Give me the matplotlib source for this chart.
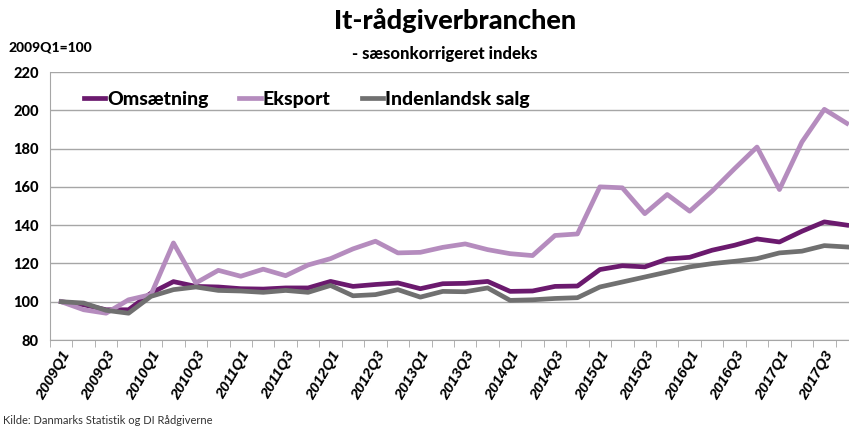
import matplotlib.pyplot as plt
import numpy as np

plt.rcParams['font.family'] = ['Lato', 'DejaVu Sans']

quarters = ['%dQ%d' % (y, q) for y in range(2009, 2018) for q in range(1, 5)]

omsaetning = [100, 98.4, 95.8, 95.8, 104.5, 110.5, 108, 107.7, 106.8, 106.6,
              107.2, 107.2, 110.6, 108, 109, 109.8, 106.8, 109.4, 109.6, 110.6,
              105.4, 105.6, 108, 108.2, 116.8, 118.8, 118.2, 122.3, 123.2, 126.9,
              129.5, 132.8, 131.2, 136.8, 141.7, 140]
eksport = [100, 95.8, 94, 101, 103.7, 130.7, 109.8, 116.4, 113.3, 117,
           113.6, 119.2, 122.5, 127.6, 131.6, 125.5, 125.8, 128.4, 130.2, 127.2,
           125.1, 124.1, 134.6, 135.4, 160, 159.5, 146, 156, 147.3, 157.8,
           169.5, 180.8, 158.6, 183.4, 200.5, 193.2]
indenlandsk = [100, 99.3, 95.5, 94, 102.8, 106.3, 107.7, 105.9, 105.6, 104.9,
               105.9, 104.9, 108.5, 103.1, 103.7, 106.3, 102.4, 105.4, 105.2, 107.2,
               100.7, 101, 101.7, 102.1, 107.7, 110.3, 112.9, 115.5, 118.2, 119.9,
               121.1, 122.5, 125.5, 126.4, 129.3, 128.6]

fig = plt.figure(figsize=(8.49, 4.28), dpi=100)
ax = fig.add_axes([50 / 849, 88 / 428, 808 / 849, 268 / 428])

x = np.arange(len(quarters))
ax.plot(x, omsaetning, color='#6B1A6E', lw=3.4, label='Omsætning', solid_joinstyle='round')
ax.plot(x, eksport, color='#B58CBE', lw=3.4, label='Eksport', solid_joinstyle='round')
ax.plot(x, indenlandsk, color='#707070', lw=3.4, label='Indenlandsk salg', solid_joinstyle='round')

ax.set_xlim(-0.5, len(quarters) - 0.5)
ax.set_ylim(80, 220)
ax.set_yticks(range(80, 221, 20))
ax.grid(axis='y', color='#A6A6A6', lw=1)
ax.set_axisbelow(True)

# x labels: bold italic (Lato italic not available, so Liberation Sans)
ax.set_xticks(x[::2])
ax.set_xticklabels(quarters[::2], rotation=60, ha='right', rotation_mode='anchor',
                   family=['Liberation Sans', 'DejaVu Sans'], fontweight='bold',
                   fontstyle='italic', fontsize=10.8)
ax.set_xticks(np.arange(-0.5, len(quarters)), minor=True)
ax.tick_params(axis='x', which='major', length=0, pad=6)
ax.tick_params(axis='x', which='minor', length=5, color='#A6A6A6')
ax.tick_params(axis='y', length=0, labelsize=10.5, pad=8)
for lab in ax.get_yticklabels():
    lab.set_fontweight('black')

for s in ['top', 'right']:
    ax.spines[s].set_visible(False)
for s in ['left', 'bottom']:
    ax.spines[s].set_color('#A6A6A6')

ax.legend(loc='upper left', bbox_to_anchor=(0.02, 0.995), ncol=3, frameon=False,
          prop={'weight': 'black', 'size': 14}, handlelength=1.1, handletextpad=0.1,
          columnspacing=1.6)

fig.text(0.536, 0.952, 'It-rådgiverbranchen', ha='center', va='center',
         fontsize=19.5, fontweight='black')
fig.text(0.524, 0.874, '- sæsonkorrigeret indeks', ha='center', va='center',
         fontsize=12, fontweight='black')
fig.text(0.01, 0.89, '2009Q1=100', ha='left', va='center', fontsize=10, fontweight='black')
fig.text(0.004, 0.018, 'Kilde: Danmarks Statistik og DI Rådgiverne', ha='left',
         va='center', fontsize=8, color='#333333')

fig.savefig('out.png', dpi=100)
